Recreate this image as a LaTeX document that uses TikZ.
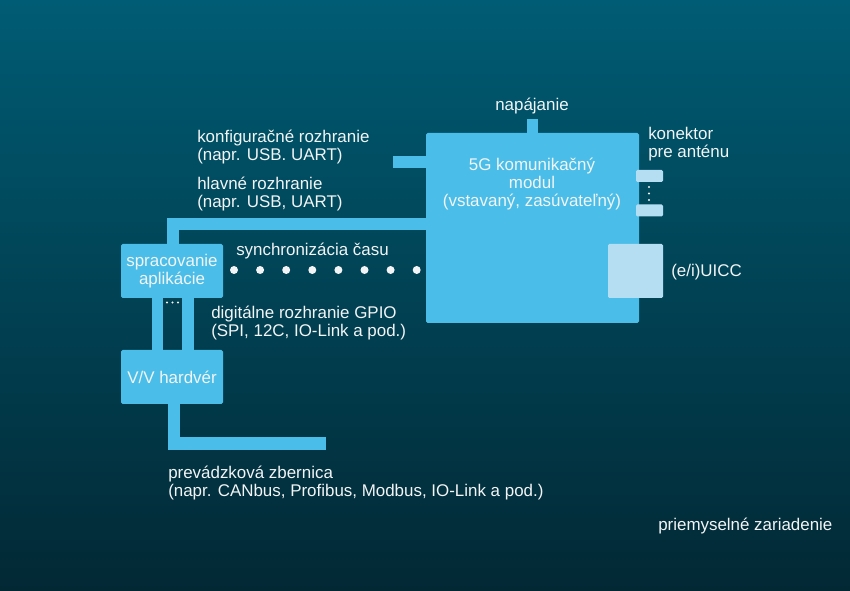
\documentclass[tikz,border=0pt]{standalone}
\usepackage{fontspec}
\setmainfont{Liberation Sans}
\definecolor{bgtop}{RGB}{0,92,116}
\definecolor{bgmid}{RGB}{3,60,80}
\definecolor{bgbot}{RGB}{2,40,52}
\definecolor{modblue}{RGB}{74,190,232}
\definecolor{paleblue}{RGB}{182,222,242}
\definecolor{txtwhite}{RGB}{242,244,245}

\begin{document}
\begin{tikzpicture}[x=0.75pt, y=-0.75pt,
    box/.style={fill=modblue, rounded corners=1.2pt, inner sep=0pt, text=txtwhite, align=center, font=\fontsize{12.7}{13.5}\selectfont},
    plug/.style={fill=paleblue, rounded corners=1pt, inner sep=0pt},
    txt/.style={text=txtwhite, inner sep=0pt, align=left, font=\fontsize{12.7}{13.5}\selectfont},
    bus/.style={draw=modblue, line width=9.5pt},
    dot/.style={circle, fill=txtwhite, inner sep=0pt, minimum size=6pt}]

  \shade[top color=bgtop, middle color=bgmid, bottom color=bgbot] (0,0) rectangle (850,591);
  \useasboundingbox (0,0) rectangle (850,591);

  % blocks
  \node[box, minimum width=213*0.75pt, minimum height=190*0.75pt] (modul) at (532.5,228) {};
  \node[plug, minimum width=27*0.75pt, minimum height=12*0.75pt] (ant1) at (649.5,176) {};
  \node[plug, minimum width=27*0.75pt, minimum height=12*0.75pt] (ant2) at (649.5,210.5) {};
  \node[plug, minimum width=55*0.75pt, minimum height=54*0.75pt] (uicc) at (635.5,271) {};
  \node[box, minimum width=102*0.75pt, minimum height=54*0.75pt] (app) at (172,271) {spracovanie\\aplikácie};
  \node[box, minimum width=102*0.75pt, minimum height=54*0.75pt] (vv) at (172,377) {V/V hardvér};

  % connections
  \coordinate (hlav) at (173,224);
  \coordinate (konf) at (393,162);
  \coordinate (nap) at (532.5,119);
  \coordinate (pzb) at (326,443.5);
  \draw[bus] (hlav -| modul.west) -| (app.north -| hlav);
  \draw[bus, line width=9pt] (konf) -- (konf -| modul.west);
  \draw[bus, line width=8.5pt] (nap) -- (nap |- modul.north);
  \foreach \gx in {157.5,188}
    \draw[bus, line width=8.5pt] (app.south -| \gx,0) -- (vv.north -| \gx,0);
  \draw[bus] (vv.south -| 174,0) |- (pzb);

  % time sync dots
  \foreach \i in {0,...,7}
    \node[dot] (s\i) at (234+26.1*\i,270) {};
  \foreach \j in {187,193.5,200}
    \fill[txtwhite] (649,\j) circle (0.9pt);
  \foreach \k in {167,172.5,178}
    \fill[txtwhite] (\k,302.5) circle (0.8pt);

  % labels (base = last line)
  \node[txt, anchor=base, align=center] (modtxt) at (532,207) {5G komunikačný\\modul\\(vstavaný, zasúvateľný)};
  \node[txt, anchor=base] (naptxt) at (532,111) {napájanie};
  \node[txt, anchor=base west] (konftxt) at (197,161) {konfiguračné rozhranie\\(napr. USB. UART)};
  \node[txt, anchor=base west] (hlavtxt) at (197,208) {hlavné rozhranie\\(napr. USB, UART)};
  \node[txt, anchor=base west] (synctxt) at (236,256) {synchronizácia času};
  \node[txt, anchor=base west] (gpiotxt) at (211,337) {digitálne rozhranie GPIO\\(SPI, 12C, IO-Link a pod.)};
  \node[txt, anchor=base west] (pzbtxt) at (168,497) {prevádzková zbernica\\(napr. CANbus, Profibus, Modbus, IO-Link a pod.)};
  \node[txt, anchor=base west] (anttxt) at (648,158) {konektor\\pre anténu};
  \node[txt, anchor=base west] (uicctxt) at (671,277) {(e/i)UICC};
  \node[txt, anchor=base west] (zartxt) at (658,530) {priemyselné zariadenie};
\end{tikzpicture}
\end{document}
